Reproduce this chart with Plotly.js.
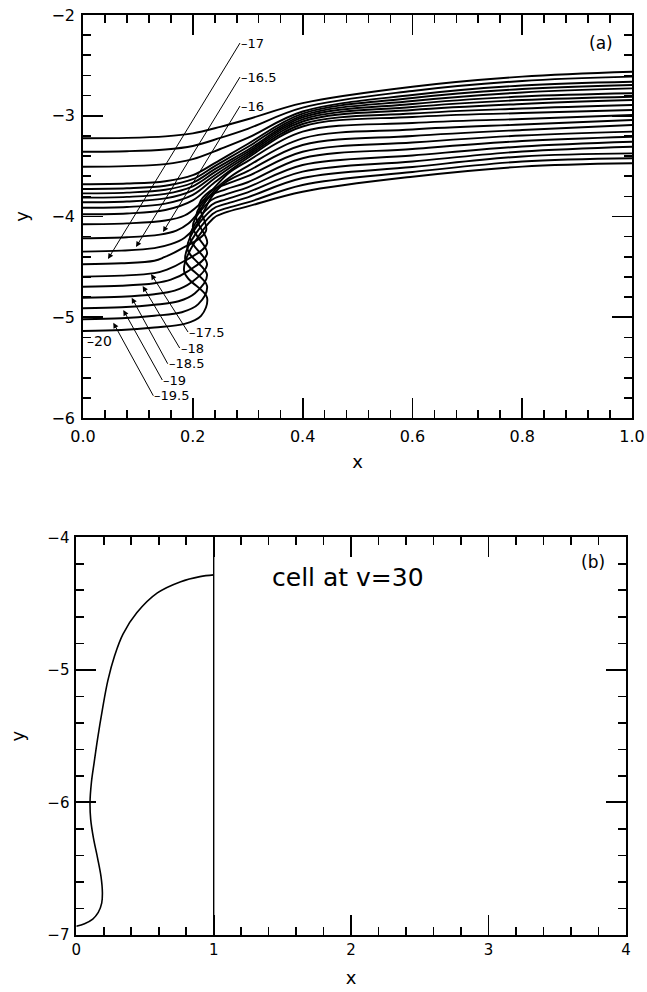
<!DOCTYPE html>
<html><head><meta charset="utf-8">
<script src="https://cdn.plot.ly/plotly-3.0.1.min.js"></script>
<style>html,body{margin:0;padding:0;background:#fff}#chart{width:647px;height:992px}</style>
</head><body><div id="chart"></div>
<script>
// ---------- data: panel (a) profiles (x, y) ----------
const c01x = [0, 0.08, 0.15, 0.2, 0.25, 0.3, 0.4, 0.6, 0.8, 1.0];
const c01y = [-3.224, -3.22, -3.205, -3.175, -3.11, -3.035, -2.875, -2.712, -2.612, -2.563];
const c02x = [0, 0.08, 0.15, 0.2, 0.25, 0.3, 0.4, 0.6, 0.8, 1.0];
const c02y = [-3.357, -3.352, -3.335, -3.3, -3.22, -3.13, -2.92, -2.754, -2.655, -2.612];
const c03x = [0, 0.08, 0.15, 0.2, 0.25, 0.3, 0.4, 0.6, 0.8, 1.0];
const c03y = [-3.506, -3.5, -3.48, -3.43, -3.33, -3.22, -2.958, -2.794, -2.700, -2.662];
const c04x = [0, 0.08, 0.15, 0.2, 0.24, 0.3, 0.4, 0.6, 0.8, 1.0];
const c04y = [-3.68, -3.673, -3.65, -3.59, -3.47, -3.28, -2.978, -2.824, -2.735, -2.695];
const c05x = [0, 0.08, 0.15, 0.2, 0.24, 0.3, 0.4, 0.6, 0.8, 1.0];
const c05y = [-3.727, -3.72, -3.695, -3.63, -3.5, -3.31, -2.998, -2.854, -2.769, -2.728];
const c06x = [0, 0.08, 0.15, 0.2, 0.24, 0.3, 0.4, 0.6, 0.8, 1.0];
const c06y = [-3.77, -3.763, -3.735, -3.665, -3.53, -3.34, -3.017, -2.883, -2.809, -2.777];
const c07x = [0, 0.08, 0.15, 0.2, 0.24, 0.3, 0.4, 0.6, 0.8, 1.0];
const c07y = [-3.813, -3.805, -3.775, -3.7, -3.56, -3.36, -3.037, -2.913, -2.844, -2.811];
const c08x = [0, 0.08, 0.15, 0.2, 0.24, 0.3, 0.4, 0.6, 0.8, 1.0];
const c08y = [-3.859, -3.851, -3.82, -3.74, -3.59, -3.38, -3.057, -2.943, -2.883, -2.844];
const c09x = [0, 0.08, 0.15, 0.2, 0.24, 0.3, 0.4, 0.6, 0.8, 1.0];
const c09y = [-3.913, -3.905, -3.872, -3.785, -3.62, -3.40, -3.082, -2.978, -2.928, -2.893];
const c10x = [0, 0.08, 0.15, 0.2, 0.24, 0.3, 0.4, 0.6, 0.8, 1.0];
const c10y = [-3.978, -3.97, -3.935, -3.84, -3.66, -3.42, -3.107, -3.012, -2.973, -2.943];
const c11x = [0, 0.08, 0.15, 0.185, 0.21, 0.235, 0.265, 0.3, 0.4, 0.6, 0.8, 1.0];
const c11y = [-4.077, -4.068, -4.04, -3.99, -3.89, -3.74, -3.57, -3.45, -3.158, -3.072, -3.032, -2.993];
const c12x = [0, 0.08, 0.14, 0.17, 0.192, 0.21, 0.225, 0.245, 0.27, 0.3, 0.4, 0.6, 0.8, 1.0];
const c12y = [-4.216, -4.206, -4.18, -4.14, -4.07, -3.96, -3.84, -3.71, -3.6, -3.5, -3.224, -3.136, -3.087, -3.042];
const c13x = [0, 0.07, 0.13, 0.16, 0.185, 0.205, 0.22, 0.235, 0.26, 0.3, 0.4, 0.6, 0.8, 1.0];
const c13y = [-4.349, -4.339, -4.314, -4.275, -4.21, -4.1, -3.95, -3.8, -3.66, -3.55, -3.29, -3.201, -3.141, -3.092];
const c14x = [0, 0.07, 0.13, 0.148, 0.178, 0.224, 0.212, 0.231, 0.26, 0.3, 0.4, 0.6, 0.8, 1.0];
const c14y = [-4.474, -4.464, -4.439, -4.404, -4.324, -4.144, -3.874, -3.75, -3.68, -3.6, -3.357, -3.266, -3.196, -3.158];
const c15x = [0, 0.07, 0.13, 0.153, 0.183, 0.226, 0.206, 0.232, 0.26, 0.3, 0.4, 0.6, 0.8, 1.0];
const c15y = [-4.597, -4.587, -4.562, -4.527, -4.447, -4.267, -3.997, -3.795, -3.73, -3.66, -3.422, -3.330, -3.251, -3.208];
const c16x = [0, 0.07, 0.13, 0.16, 0.19, 0.226, 0.2, 0.233, 0.26, 0.3, 0.4, 0.6, 0.8, 1.0];
const c16y = [-4.697, -4.687, -4.662, -4.627, -4.547, -4.367, -4.097, -3.84, -3.78, -3.71, -3.489, -3.395, -3.305, -3.258];
const c17x = [0, 0.07, 0.13, 0.167, 0.197, 0.226, 0.195, 0.234, 0.26, 0.3, 0.4, 0.6, 0.8, 1.0];
const c17y = [-4.806, -4.796, -4.771, -4.736, -4.656, -4.476, -4.206, -3.885, -3.83, -3.76, -3.555, -3.454, -3.355, -3.307];
const c18x = [0, 0.07, 0.13, 0.174, 0.204, 0.226, 0.19, 0.235, 0.26, 0.3, 0.4, 0.6, 0.8, 1.0];
const c18y = [-4.911, -4.901, -4.876, -4.841, -4.761, -4.581, -4.311, -3.93, -3.875, -3.81, -3.618, -3.509, -3.404, -3.373];
const c19x = [0, 0.07, 0.13, 0.18, 0.21, 0.226, 0.186, 0.236, 0.26, 0.3, 0.4, 0.6, 0.8, 1.0];
const c19y = [-5.02, -5.01, -4.985, -4.95, -4.87, -4.69, -4.42, -3.975, -3.92, -3.86, -3.687, -3.558, -3.454, -3.422];
const c20x = [0, 0.07, 0.13, 0.185, 0.215, 0.226, 0.184, 0.237, 0.26, 0.3, 0.4, 0.6, 0.8, 1.0];
const c20y = [-5.136, -5.126, -5.101, -5.066, -4.986, -4.806, -4.536, -4.02, -3.96, -3.9, -3.754, -3.605, -3.505, -3.472];

// labels of the marked profiles and the points they mark
const labelText = ['17', '16.5', '16', '17.5', '18', '18.5', '19', '19.5'];
const labelTipX = [0.0455, 0.0965, 0.1457, 0.1239, 0.1087, 0.0887, 0.0734, 0.0552];
const labelTipY = [-4.422, -4.303, -4.154, -4.571, -4.690, -4.806, -4.928, -5.054];

// ---------- data: panel (b) cell at v=30 ----------
const cellX = [0, 0.06, 0.12, 0.16, 0.185, 0.19, 0.18, 0.155, 0.125, 0.105, 0.1, 0.11, 0.13, 0.155, 0.19, 0.23, 0.28, 0.34, 0.44, 0.59, 0.76, 0.9, 1.0];
const cellY = [-6.935, -6.915, -6.88, -6.83, -6.76, -6.68, -6.56, -6.42, -6.27, -6.13, -6.0, -5.85, -5.7, -5.52, -5.3, -5.08, -4.89, -4.73, -4.57, -4.42, -4.335, -4.297, -4.284];
const wallX = [1, 1];
const wallY = [-4, -7];

// ---------- build ----------
const profiles = [
  [c01x, c01y], [c02x, c02y], [c03x, c03y], [c04x, c04y], [c05x, c05y],
  [c06x, c06y], [c07x, c07y], [c08x, c08y], [c09x, c09y], [c10x, c10y],
  [c11x, c11y], [c12x, c12y], [c13x, c13y], [c14x, c14y], [c15x, c15y],
  [c16x, c16y], [c17x, c17y], [c18x, c18y], [c19x, c19y], [c20x, c20y]
];
const traces = profiles.map(p => ({
  x: p[0], y: p[1], type: 'scatter', mode: 'lines', xaxis: 'x', yaxis: 'y',
  line: {color: 'black', width: 1.9, shape: 'spline', smoothing: 1}
}));
traces.push({x: cellX, y: cellY, type: 'scatter', mode: 'lines', xaxis: 'x2', yaxis: 'y2',
  line: {color: 'black', width: 1.6, shape: 'spline', smoothing: 1}});
traces.push({x: wallX, y: wallY, type: 'scatter', mode: 'lines', xaxis: 'x2', yaxis: 'y2',
  line: {color: 'black', width: 1.4}});

const FONT = 'DejaVu Sans, Liberation Sans, sans-serif';
function ax(extra) {
  return Object.assign({
    showline: true, linecolor: 'black', linewidth: 1.8, mirror: 'ticks',
    ticks: 'inside', ticklen: 20, tickwidth: 1.8, tickcolor: 'black',
    showgrid: false, zeroline: false, fixedrange: true,
    tickfont: {family: FONT, size: 16, color: 'black'}
  }, extra);
}
const minorTicks = d => ({dtick: d, ticks: 'inside', ticklen: 8, tickwidth: 1.6, tickcolor: 'black', showgrid: false});

// label annotations (tail offsets in pixels)
const tailAX = [132, 104, 77, 37, 37, 36, 39, 40];
const tailAY = [-216, -170, -126, 58, 62, 66, 70, 73];
const annotations = labelText.map((t, i) => ({
  xref: 'x', yref: 'y', x: labelTipX[i], y: labelTipY[i], text: '\u2013' + t,
  showarrow: true, ax: tailAX[i], ay: tailAY[i], xanchor: 'left', yanchor: 'middle',
  arrowhead: 2, arrowsize: 1.1, arrowwidth: 1, arrowcolor: 'black', standoff: 0, borderpad: 0,
  font: {family: FONT, size: 13, color: 'black'}
}));
annotations.push({xref: 'x', yref: 'y', x: 0.004, y: -5.236, text: '\u201320', showarrow: false,
  xanchor: 'left', yanchor: 'middle', font: {family: FONT, size: 14, color: 'black'}});
annotations.push({xref: 'x', yref: 'y', x: 0.9435, y: -2.278, text: '(a)', showarrow: false,
  font: {family: FONT, size: 17, color: 'black'}});
annotations.push({xref: 'x2', yref: 'y2', x: 3.76, y: -4.186, text: '(b)', showarrow: false,
  font: {family: FONT, size: 17, color: 'black'}});
annotations.push({xref: 'x2', yref: 'y2', x: 1.977, y: -4.307, text: 'cell at v=30', showarrow: false,
  font: {family: FONT, size: 25, color: 'black'}});

const layout = {
  width: 647, height: 992, margin: {l: 0, r: 0, t: 0, b: 0},
  paper_bgcolor: 'white', plot_bgcolor: 'white', showlegend: false,
  font: {family: FONT, color: 'black', size: 16},
  xaxis: ax({domain: [0.1283, 0.9768], range: [0, 1], dtick: 0.2, tick0: 0, tickformat: '.1f',
    minor: minorTicks(0.04), anchor: 'y', ticklabelstandoff: 3,
    title: {text: 'x', font: {family: FONT, size: 18, color: 'black'}, standoff: 10}}),
  yaxis: ax({domain: [0.5786, 0.9849], range: [-6, -2], dtick: 1, tick0: 0,
    minor: minorTicks(0.2), anchor: 'x', ticklabelstandoff: 3,
    title: {text: 'y', font: {family: FONT, size: 18, color: 'black'}, standoff: 18}}),
  xaxis2: ax({domain: [0.1179, 0.9675], range: [0, 4], dtick: 1, tick0: 0,
    minor: minorTicks(0.2), anchor: 'y2',
    tickfont: {family: FONT, size: 15, color: 'black'},
    title: {text: 'x', font: {family: FONT, size: 18, color: 'black'}, standoff: 14}}),
  yaxis2: ax({domain: [0.0575, 0.4584], range: [-7, -4], dtick: 1, tick0: 0,
    minor: minorTicks(0.2), anchor: 'x2', ticklabelstandoff: 2,
    tickfont: {family: FONT, size: 15, color: 'black'},
    title: {text: 'y', font: {family: FONT, size: 18, color: 'black'}, standoff: 18}}),
  annotations: annotations
};

Plotly.newPlot('chart', traces, layout, {displayModeBar: false, staticPlot: true});
</script>
</body></html>
